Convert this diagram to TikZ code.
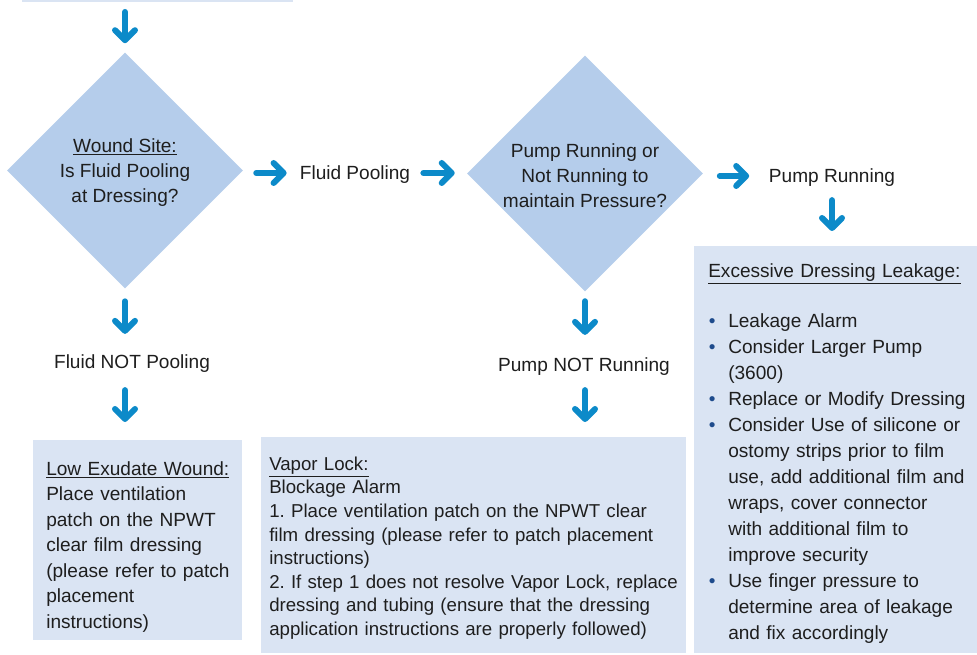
\documentclass[tikz,border=0pt]{standalone}
\usepackage{fontspec}
\setmainfont{Liberation Sans}
\usetikzlibrary{shapes.geometric,arrows.meta}
\definecolor{diamondblue}{RGB}{181,205,235}
\definecolor{boxblue}{RGB}{218,228,243}
\definecolor{arrowblue}{RGB}{12,138,201}
\definecolor{inkgrey}{RGB}{30,30,30}
\definecolor{dotblue}{RGB}{30,75,140}
\newcommand{\itm}{\makebox[15pt][l]{\hspace{0.5pt}\textcolor{dotblue}{\textbullet}}}
\newcommand{\ind}{\hspace*{15pt}}
\frenchspacing

\begin{document}
\begin{tikzpicture}[x=0.75pt,y=-0.75pt,
        question/.style={diamond, aspect=1, fill=diamondblue, minimum width=177pt, minimum height=177pt, inner sep=0pt, align=center, text=inkgrey, font=\fontsize{14.3}{18.75}\selectfont},
        outcome/.style={inner sep=0pt, text height=10pt, text depth=0pt, text=inkgrey, font=\fontsize{14.3}{18}\selectfont},
        infobox/.style={anchor=north west, fill=boxblue, inner ysep=0pt, align=left, text=inkgrey},
        flow/.style={draw=arrowblue, line width=4.5pt, line cap=round, -{Straight Barb[round, length=7.5pt, width=15pt]}}]
        \useasboundingbox (0,0) rectangle (977,655);
        \clip (0,0) rectangle (977,655);
        \node (top) [fill=boxblue, anchor=south west, minimum width=203.25pt, minimum height=30pt, inner sep=0pt] at (22,2.5) {};
        \node (site) [question] at (125,170.5) {\rule{0pt}{13pt}\underline{Wound Site:}\\Is Fluid Pooling\\at Dressing?};
        \node (pool) [outcome] at (355,173) {Fluid Pooling};
        \node (pump) [question] at (585,173.5) {\rule{0pt}{13pt}Pump Running or\\Not Running to\\maintain Pressure?};
        \node (run) [outcome] at (832,176) {Pump Running};
        \node (nopool) [outcome] at (132,362) {Fluid NOT Pooling};
        \node (norun) [outcome] at (584,365) {Pump NOT Running};
        \node (low) [infobox, inner xsep=9.75pt, text width=137.25pt, text height=26.25pt, text depth=123.75pt, font=\fontsize{14.3}{19.1}\selectfont] at (33,440) {\underline{Low Exudate Wound:}\\Place ventilation\\patch on the NPWT\\clear film dressing\\\mbox{(please refer to patch}\\placement\\instructions)};
        \node (vapor) [infobox, inner xsep=6pt, text width=306.75pt, text height=24.75pt, text depth=137.25pt, font=\fontsize{14}{17.7}\selectfont] at (261,437) {\underline{Vapor Lock:}\\Blockage Alarm\\1. Place ventilation patch on the NPWT clear\\film dressing (please refer to patch placement\\instructions)\\\mbox{2. If step 1 does not resolve Vapor Lock, replace}\\dressing and tubing (ensure that the dressing\\application instructions are properly followed)};
        \node (leak) [infobox, inner xsep=10.5pt, text width=204pt, text height=23.25pt, text depth=282pt, font=\fontsize{14.3}{19.5}\selectfont] at (694,246) {\underline{Excessive Dressing Leakage:}\\[18pt]
                \itm Leakage Alarm\\
                \itm Consider Larger Pump\\
                \ind (3600)\\
                \itm Replace or Modify Dressing\\
                \itm Consider Use of silicone or\\
                \ind ostomy strips prior to film\\
                \ind use, add additional film and\\
                \ind wraps, cover connector\\
                \ind with additional film to\\
                \ind improve security\\
                \itm Use finger pressure to\\
                \ind determine area of leakage\\
                \ind and fix accordingly};
        \draw (site.north |- top.south) edge [flow, shorten <=7.1pt, shorten >=6.75pt] (site.north);
        \draw (site.east |- pool.west) edge [flow, shorten <=9.75pt, shorten >=9.75pt] (pool.west);
        \draw (pool.east) edge [flow, shorten <=9.75pt, shorten >=9pt] (pump.west |- pool.east);
        \draw (pump.east |- run.west) edge [flow, shorten <=12.4pt, shorten >=14.6pt] (run.west);
        \draw (run.south) edge [flow, shorten <=12.9pt, shorten >=11.25pt] (run.south |- leak.north);
        \draw (site.south) edge [flow, shorten <=9.4pt, shorten >=15.9pt] (site.south |- nopool.north);
        \draw (site.south |- nopool.south) edge [flow, shorten <=15.9pt, shorten >=13.5pt] (site.south |- low.north);
        \draw (pump.south) edge [flow, shorten <=7.1pt, shorten >=17.4pt] (pump.south |- norun.north);
        \draw (pump.south |- norun.south) edge [flow, shorten <=13.65pt, shorten >=11.25pt] (pump.south |- vapor.north);
\end{tikzpicture}
\end{document}
